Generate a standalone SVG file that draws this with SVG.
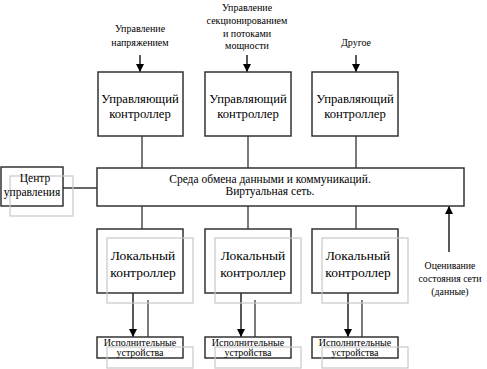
<svg xmlns="http://www.w3.org/2000/svg" width="487" height="369" viewBox="0 0 487 369" font-family="'Liberation Serif', 'DejaVu Serif', serif">
<defs>
<marker id="ah" markerUnits="userSpaceOnUse" markerWidth="8" markerHeight="10" refX="8" refY="4" orient="auto">
<path d="M0,0 L8,4 L0,8 Z" fill="#000"/>
</marker>
<style>
text{font-family:'Liberation Serif','DejaVu Serif',serif;fill:#000;text-anchor:middle}
.box{fill:#fff;stroke:#333;stroke-width:1.5}
.sh{fill:none;stroke:#c8c8c8;stroke-width:1.2}
.ln{stroke:#333;stroke-width:1.3;fill:none}
.ar{stroke:#000;stroke-width:1.3;fill:none;marker-end:url(#ah)}
.t10{font-size:10px}
.tl{font-size:10px}
.te{font-size:9.8px}
.t12{font-size:11.5px}
.t14{font-size:12.7px}
.t15{font-size:13.5px}
</style>
</defs>
<rect width="487" height="369" fill="#fff"/>

<g id="connectors">
<line class="ar" x1="140" y1="55" x2="140" y2="72"/>
<line class="ar" x1="247" y1="55" x2="247" y2="72"/>
<line class="ar" x1="356" y1="55" x2="356" y2="72"/>
<line class="ln" x1="142" y1="136" x2="142" y2="168"/>
<line class="ln" x1="248" y1="136" x2="248" y2="168"/>
<line class="ln" x1="356" y1="136" x2="356" y2="168"/>
<line class="ln" x1="63" y1="188" x2="97" y2="188"/>
<line class="ln" x1="142" y1="206" x2="142" y2="229"/>
<line class="ln" x1="248" y1="206" x2="248" y2="229"/>
<line class="ln" x1="356" y1="206" x2="356" y2="229"/>
<line class="ar" x1="133" y1="293" x2="133" y2="337"/>
<line class="ln" x1="148" y1="300" x2="148" y2="337"/>
<line class="ar" x1="241" y1="293" x2="241" y2="337"/>
<line class="ln" x1="255" y1="300" x2="255" y2="337"/>
<line class="ar" x1="348" y1="293" x2="348" y2="337"/>
<line class="ln" x1="362" y1="300" x2="362" y2="337"/>
<line class="ar" x1="449" y1="252" x2="449" y2="206"/>
</g>

<g id="label-voltage">
<text class="tl" x="140" y="32">Управление</text>
<text class="tl" x="140" y="45.5">напряжением</text>
</g>
<g id="label-sectioning">
<text class="tl" x="247" y="11">Управление</text>
<text class="tl" x="247" y="24">секционированием</text>
<text class="tl" x="247" y="36.5">и потоками</text>
<text class="tl" x="247" y="48.5">мощности</text>
</g>
<g id="label-other">
<text class="tl" x="356" y="45.5">Другое</text>
</g>

<g id="ctrl1">
<rect class="box" x="98" y="72" width="85" height="64"/>
<text class="t14" x="140" y="102.5">Управляющий</text>
<text class="t14" x="140" y="117.5">контроллер</text>
</g>
<g id="ctrl2">
<rect class="box" x="205" y="72" width="86" height="64"/>
<text class="t14" x="248" y="102.5">Управляющий</text>
<text class="t14" x="248" y="117.5">контроллер</text>
</g>
<g id="ctrl3">
<rect class="box" x="312" y="72" width="86" height="64"/>
<text class="t14" x="355" y="102.5">Управляющий</text>
<text class="t14" x="355" y="117.5">контроллер</text>
</g>

<g id="center">
<rect class="box" x="1" y="167" width="62" height="39"/>
<rect class="sh" x="10" y="176" width="63" height="40"/>
<text class="t12" x="35" y="182">Центр</text>
<text class="t12" x="32" y="196">управления</text>
</g>

<g id="network">
<rect class="box" x="97" y="168" width="367" height="38"/>
<text class="t12" x="270" y="182.5">Среда обмена данными и коммуникаций.</text>
<text class="t12" x="270" y="194.5">Виртуальная сеть.</text>
</g>

<g id="local1">
<rect class="box" x="97" y="229" width="86" height="64"/>
<rect class="sh" x="107" y="238" width="86" height="65"/>
<text class="t15" x="143" y="259.5">Локальный</text>
<text class="t15" x="143" y="277">контроллер</text>
</g>
<g id="local2">
<rect class="box" x="205" y="229" width="86" height="64"/>
<rect class="sh" x="215" y="238" width="86" height="65"/>
<text class="t15" x="253" y="259.5">Локальный</text>
<text class="t15" x="253" y="277">контроллер</text>
</g>
<g id="local3">
<rect class="box" x="312" y="229" width="86" height="64"/>
<rect class="sh" x="322" y="238" width="86" height="65"/>
<text class="t15" x="358" y="259.5">Локальный</text>
<text class="t15" x="358" y="277">контроллер</text>
</g>

<g id="exec1">
<rect class="box" x="97" y="337" width="86" height="21"/>
<rect class="sh" x="107" y="347" width="86" height="21"/>
<text class="t10" x="140" y="345.5">Исполнительные</text>
<text class="t10" x="140" y="356">устройства</text>
</g>
<g id="exec2">
<rect class="box" x="205" y="337" width="86" height="21"/>
<rect class="sh" x="215" y="347" width="86" height="21"/>
<text class="t10" x="248" y="345.5">Исполнительные</text>
<text class="t10" x="248" y="356">устройства</text>
</g>
<g id="exec3">
<rect class="box" x="312" y="337" width="86" height="21"/>
<rect class="sh" x="322" y="347" width="86" height="21"/>
<text class="t10" x="355" y="345.5">Исполнительные</text>
<text class="t10" x="355" y="356">устройства</text>
</g>

<g id="label-estimation">
<text class="te" x="450" y="269">Оценивание</text>
<text class="te" x="450" y="282">состояния сети</text>
<text class="te" x="450" y="295">(данные)</text>
</g>
</svg>
